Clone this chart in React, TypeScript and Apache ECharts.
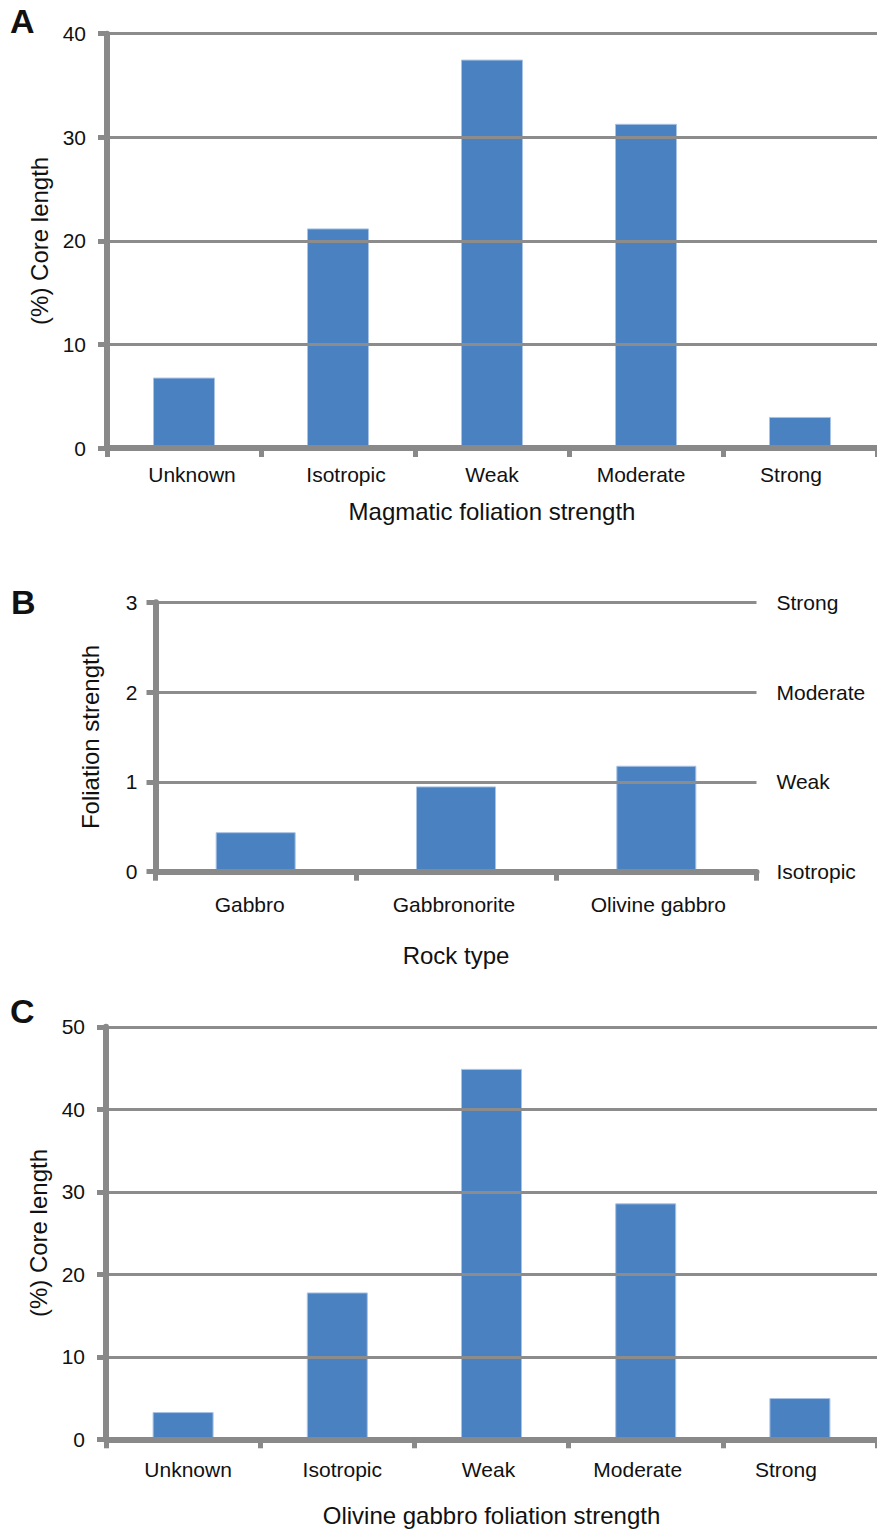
import React, { useEffect, useRef } from "react";
import * as echarts from "echarts";

// Panel A: magmatic foliation strength, all cores
const strengthCats = ["Unknown", "Isotropic", "Weak", "Moderate", "Strong"];
const valuesA = [6.8, 21.2, 37.5, 31.3, 3.0];

// Panel B: mean foliation strength by rock type
const rockCats = ["Gabbro", "Gabbronorite", "Olivine gabbro"];
const valuesB = [0.44, 0.95, 1.18];
const strengthScale = ["Isotropic", "Weak", "Moderate", "Strong"];

// Panel C: olivine gabbro foliation strength
const valuesC = [3.3, 17.8, 44.9, 28.6, 5.0];

// Horizontal nudges (px) of the category labels relative to their bands
const shiftA = [8, 8, 0, -5, -9];
const shiftB = [-6, -2, 2];
const shiftC = [5, 5, -3, -8, -14];

const FONT = "Liberation Sans, Arial, Helvetica, sans-serif";
const AXIS = "#898989";
const GRID = "#8c8c8c";
const BAR = "#4a81c1";
const TEXT = "#111";

const shifted = (cats: string[], shifts: number[]) =>
  cats.map((c, i) => {
    const d = shifts[i] || 0;
    return {
      value: c,
      textStyle: { padding: d >= 0 ? [0, 0, 0, 2 * d] : [0, -2 * d, 0, 0] },
    };
  });

const catAxis = (
  gridIndex: number,
  data: any[],
  name: string,
  nameGap: number,
  margin: number
) => ({
  type: "category",
  gridIndex,
  data,
  z: 5,
  name,
  nameLocation: "middle",
  nameGap,
  nameTextStyle: { fontFamily: FONT, fontSize: 24, color: TEXT },
  axisLine: { show: true, lineStyle: { color: AXIS, width: 6 } },
  axisTick: { show: true, length: 9, lineStyle: { color: AXIS, width: 5 } },
  axisLabel: { fontFamily: FONT, fontSize: 21, color: TEXT, margin },
  splitLine: { show: false },
});

const valAxis = (
  gridIndex: number,
  max: number,
  interval: number,
  name: string,
  nameGap: number,
  margin: number
) => ({
  type: "value",
  gridIndex,
  min: 0,
  max,
  interval,
  z: 5,
  name,
  nameLocation: "middle",
  nameGap,
  nameTextStyle: { fontFamily: FONT, fontSize: 24, color: TEXT },
  axisLine: { show: true, lineStyle: { color: AXIS, width: 6 } },
  axisTick: { show: true, length: 9, lineStyle: { color: AXIS, width: 5 } },
  axisLabel: { fontFamily: FONT, fontSize: 21, color: TEXT, margin },
  splitLine: { show: true, lineStyle: { color: GRID, width: 3 } },
});

const barSeries = (idx: number, data: number[], barWidth: number) => ({
  type: "bar",
  xAxisIndex: idx,
  yAxisIndex: idx,
  data,
  barWidth,
  itemStyle: { color: BAR, borderColor: "#a8c3e4", borderWidth: 1 },
});

export default function App() {
  const ref = useRef<HTMLDivElement>(null);

  useEffect(() => {
    if (!ref.current) return;
    const chart = echarts.init(ref.current, undefined, { renderer: "svg" });
    chart.setOption({
      animation: false,
      backgroundColor: "#fff",
      grid: [
        { left: 107, top: 33.7, width: 775, height: 414.3 },
        { left: 155.5, top: 602.3, width: 601, height: 269.4 },
        { left: 106, top: 1026.8, width: 775, height: 412.5 },
      ],
      xAxis: [
        catAxis(0, shifted(strengthCats, shiftA), "Magmatic foliation strength", 51, 16),
        catAxis(1, shifted(rockCats, shiftB), "Rock type", 72, 22),
        catAxis(2, shifted(strengthCats, shiftC), "Olivine gabbro foliation strength", 64, 20),
      ],
      yAxis: [
        valAxis(0, 40, 10, "(%) Core length", 56, 21),
        valAxis(1, 3, 1, "Foliation strength", 53, 18),
        valAxis(2, 50, 10, "(%) Core length", 56, 21),
        {
          type: "value",
          gridIndex: 1,
          position: "right",
          min: 0,
          max: 3,
          interval: 1,
          axisLine: { show: false },
          axisTick: { show: false },
          splitLine: { show: false },
          axisLabel: {
            fontFamily: FONT,
            fontSize: 21,
            color: TEXT,
            margin: 20,
            formatter: (v: number) => strengthScale[v] ?? "",
          },
        },
      ],
      series: [
        barSeries(0, valuesA, 62),
        barSeries(1, valuesB, 80),
        barSeries(2, valuesC, 61),
      ],
      graphic: [
        { type: "text", left: 10, top: 4, style: { text: "A", font: `bold 34px ${FONT}`, fill: TEXT } },
        { type: "text", left: 11, top: 585, style: { text: "B", font: `bold 34px ${FONT}`, fill: TEXT } },
        { type: "text", left: 10, top: 994, style: { text: "C", font: `bold 34px ${FONT}`, fill: TEXT } },
      ],
    });
    return () => chart.dispose();
  }, []);

  return (
    <div
      ref={ref}
      style={{ position: "absolute", left: 0, top: 0, width: 877, height: 1531 }}
    />
  );
}
